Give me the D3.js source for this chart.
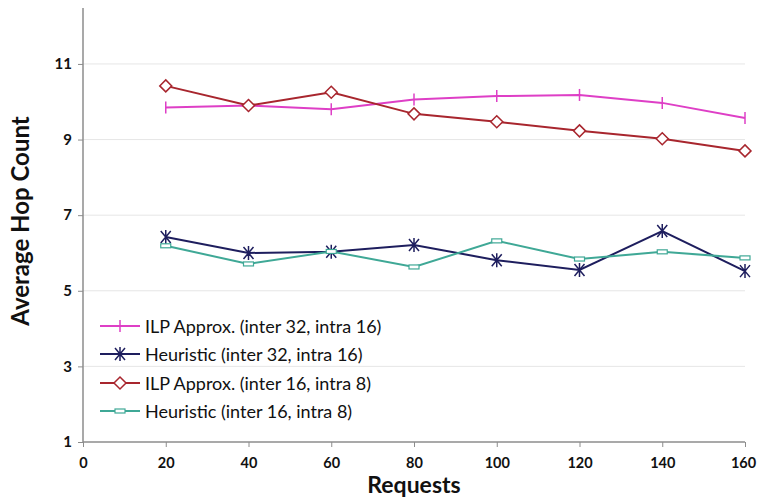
<!DOCTYPE html>
<html>
<head>
<meta charset="utf-8">
<script src="https://cdn.jsdelivr.net/npm/d3@7"></script>
<style>
  html, body { margin: 0; padding: 0; background: #fff; }
  svg { display: block; }
  text { font-family: Lato, "Open Sans", sans-serif; }
</style>
</head>
<body>
<svg id="chart" width="757" height="498"></svg>
<script>
// Request counts on the x axis
const requests = [20, 40, 60, 80, 100, 120, 140, 160];

// Average hop count per configuration
const ilp32 = [9.85, 9.90, 9.80, 10.06, 10.15, 10.18, 9.97, 9.57];
const heur32 = [6.42, 6.00, 6.03, 6.21, 5.81, 5.55, 6.58, 5.52];
const ilp16 = [10.42, 9.90, 10.25, 9.68, 9.47, 9.23, 9.02, 8.70];
const heur16 = [6.19, 5.71, 6.04, 5.63, 6.32, 5.84, 6.03, 5.87];

const seriesNames = [
  "ILP Approx. (inter 32, intra 16)",
  "Heuristic (inter 32, intra 16)",
  "ILP Approx. (inter 16, intra 8)",
  "Heuristic (inter 16, intra 8)"
];

const xTicks = [0, 20, 40, 60, 80, 100, 120, 140, 160];
const yTicks = [1, 3, 5, 7, 9, 11];

const series = [
  { name: seriesNames[0], values: ilp32, color: "#DE3FC6", marker: "plus" },
  { name: seriesNames[1], values: heur32, color: "#1E1E5E", marker: "star" },
  { name: seriesNames[2], values: ilp16, color: "#A8262E", marker: "diamond" },
  { name: seriesNames[3], values: heur16, color: "#3FA896", marker: "dash" }
];

const svg = d3.select("#chart");
const plotLeft = 83, plotRight = 745, plotTop = 8, plotBottom = 442;

const x = d3.scaleLinear().domain([0, 160]).range([plotLeft, plotRight]);
const y = d3.scaleLinear().domain([1, 12.48]).range([plotBottom, plotTop]);

// Horizontal gridlines
svg.append("g")
  .selectAll("line")
  .data(yTicks.filter(d => d > 1))
  .join("line")
  .attr("x1", plotLeft).attr("x2", plotRight)
  .attr("y1", d => y(d)).attr("y2", d => y(d))
  .attr("stroke", "#e6e6e6").attr("stroke-width", 1);

// Y axis
const yAxis = svg.append("g")
  .attr("transform", `translate(${plotLeft},0)`)
  .call(d3.axisLeft(y).tickValues(yTicks).tickSize(5).tickPadding(6).tickFormat(d3.format("d")));
yAxis.select(".domain").attr("stroke", "#8c8c8c").attr("stroke-width", 1.5)
  .attr("d", `M0,${plotTop}V${plotBottom}`);
yAxis.selectAll(".tick line").attr("stroke", "#8c8c8c");
yAxis.selectAll(".tick text")
  .attr("font-family", "Lato, sans-serif")
  .attr("font-weight", "bold").attr("font-size", 15).attr("fill", "#111");

// X axis
const xAxis = svg.append("g")
  .attr("transform", `translate(0,${plotBottom})`)
  .call(d3.axisBottom(x).tickValues(xTicks).tickSize(5).tickPadding(11).tickFormat(d3.format("d")));
xAxis.select(".domain").attr("stroke", "#8c8c8c").attr("stroke-width", 1.5)
  .attr("d", `M${plotLeft},0H${plotRight}`);
xAxis.selectAll(".tick line").attr("stroke", "#8c8c8c");
xAxis.selectAll(".tick text")
  .attr("font-family", "Lato, sans-serif")
  .attr("font-weight", "bold").attr("font-size", 14.5).attr("fill", "#111");
// keep the last label inside the canvas
xAxis.selectAll(".tick text").filter(d => d === 160).attr("dx", -2);

// Axis titles
svg.append("text")
  .attr("x", x(80)).attr("y", 493)
  .attr("text-anchor", "middle")
  .attr("font-weight", "bold").attr("font-size", 23).attr("fill", "#111")
  .text("Requests");

svg.append("text")
  .attr("transform", `translate(29,${221}) rotate(-90)`)
  .attr("text-anchor", "middle")
  .attr("font-weight", "bold").attr("font-size", 24).attr("fill", "#111")
  .text("Average Hop Count");

// Marker drawing
function drawMarker(g, type, color) {
  if (type === "plus") {
    g.append("path").attr("d", "M0,-6V6").attr("stroke", color).attr("stroke-width", 1.5);
  } else if (type === "star") {
    g.append("path").attr("d", "M-5,-6L5,6M-5,6L5,-6M0,-7V7").attr("stroke", color).attr("stroke-width", 1.5);
  } else if (type === "diamond") {
    g.append("path").attr("d", "M0,-6L6,0L0,6L-6,0Z").attr("fill", "#fff").attr("stroke", color).attr("stroke-width", 1.5);
  } else if (type === "dash") {
    g.append("rect").attr("x", -5).attr("y", -2).attr("width", 10).attr("height", 4)
      .attr("fill", "#fff").attr("stroke", color).attr("stroke-width", 1.2);
  }
}

const line = d3.line().x((d, i) => x(requests[i])).y(d => y(d));

series.forEach(s => {
  svg.append("path")
    .attr("d", line(s.values))
    .attr("fill", "none").attr("stroke", s.color).attr("stroke-width", 2);
  s.values.forEach((v, i) => {
    const g = svg.append("g").attr("transform", `translate(${x(requests[i])},${y(v)})`);
    drawMarker(g, s.marker, s.color);
  });
});

// Legend
const legendY = [326, 354, 383, 411];
series.forEach((s, i) => {
  const g = svg.append("g").attr("transform", `translate(100,${legendY[i]})`);
  g.append("line").attr("x1", 0).attr("x2", 40).attr("y1", 0).attr("y2", 0)
    .attr("stroke", s.color).attr("stroke-width", 2);
  const m = g.append("g").attr("transform", "translate(20,0)");
  drawMarker(m, s.marker, s.color);
  g.append("text").attr("x", 45).attr("y", 6.5)
    .attr("font-size", 18).attr("fill", "#111")
    .text(s.name);
});
</script>
</body>
</html>
